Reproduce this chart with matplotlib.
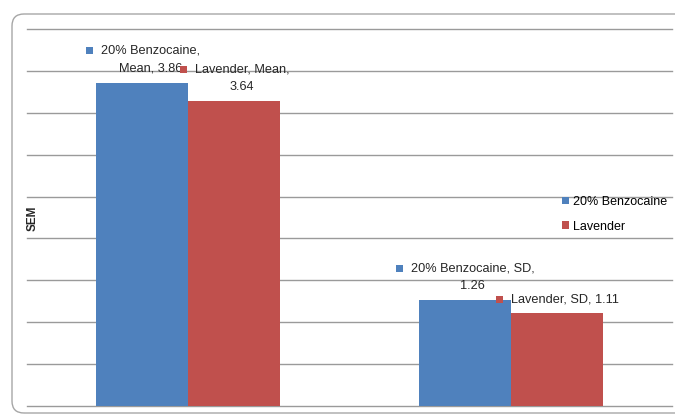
import matplotlib
matplotlib.use('Agg')
import matplotlib.pyplot as plt
import matplotlib.transforms as mtransforms
from matplotlib.patches import FancyBboxPatch, Rectangle
import numpy as np

plt.rcParams['font.family'] = ['Liberation Sans', 'DejaVu Sans']

# Data
categories = ['Mean', 'SD']
series_names = ['20% Benzocaine', 'Lavender']
benzocaine = [3.86, 1.26]
lavender = [3.64, 1.11]
series_colors = ['#4F81BD', '#C0504D']

# how many comma-separated parts go on the first line of each data label
first_line_parts = [[1, 2], [2, 3]]

W, H = 675, 416
fig = plt.figure(figsize=(W / 100, H / 100), dpi=100)
ax = fig.add_axes([27 / W, 10 / H, 645 / W, 377 / H])

x = np.arange(len(categories))
width = 0.285
values = [benzocaine, lavender]
for i, (name, vals, col) in enumerate(zip(series_names, values, series_colors)):
    ax.bar(x + (i - 0.5) * width, vals, width, color=col, label=name, zorder=3)

ax.set_xlim(-0.5, 1.5)
ax.set_ylim(0, 4.5)
ax.set_yticks(np.arange(0, 4.51, 0.5))
ax.yaxis.grid(True, color='#9A9A9A', lw=1)
for gl in ax.get_ygridlines():
    gl.set_clip_on(False)
ax.tick_params(left=False, bottom=False, labelleft=False, labelbottom=False)
for s in ax.spines.values():
    s.set_visible(False)

# Data labels with a legend key in front of the first line
px = 72 / fig.dpi
first_lines = []
for i in range(len(series_names)):
    for j in range(len(categories)):
        val = values[i][j]
        parts = [series_names[i], categories[j], f'{val:.2f}']
        k = first_line_parts[i][j]
        lines = [', '.join(parts[:k]) + (',' if k < 3 else '')]
        if k < 3:
            lines.append(', '.join(parts[k:]))
        xpos = x[j] + (i - 0.5) * width
        texts = []
        for n, line in enumerate(reversed(lines)):
            t = ax.annotate(line, xy=(xpos, val), xytext=(8 * px, (14 + 18 * n) * px),
                            textcoords='offset points', ha='center', va='center',
                            fontsize=9.2, color='#262626', zorder=5, annotation_clip=False)
            texts.append(t)
        first_lines.append((texts[-1], series_colors[i]))

fig.canvas.draw()
for t, col in first_lines:
    bb = t.get_window_extent()
    cy = (bb.y0 + bb.y1) / 2
    key = Rectangle((bb.x0 - 15, cy - 3.5), 7, 7, facecolor=col, edgecolor='none',
                    transform=mtransforms.IdentityTransform(), zorder=6, clip_on=False)
    ax.add_patch(key)

ax.legend(loc='upper left', bbox_to_anchor=(562 / W, 1 - 196 / H),
          bbox_transform=fig.transFigure, frameon=False, handlelength=0.55,
          handleheight=0.55, handletextpad=0.35, labelspacing=1.0, borderpad=0,
          borderaxespad=0, fontsize=9)

fig.text(33 / W, 1 - 218 / H, 'SEM', rotation=90, fontweight='bold', fontsize=8.5,
         ha='center', va='center', color='#262626')

# rounded chart border
border = FancyBboxPatch((12, 3), 700, 399, boxstyle='round,pad=0,rounding_size=12',
                        transform=mtransforms.IdentityTransform(), fill=False,
                        ec='#A6A6A6', lw=1)
fig.add_artist(border)

fig.savefig('out.png', dpi=100)
